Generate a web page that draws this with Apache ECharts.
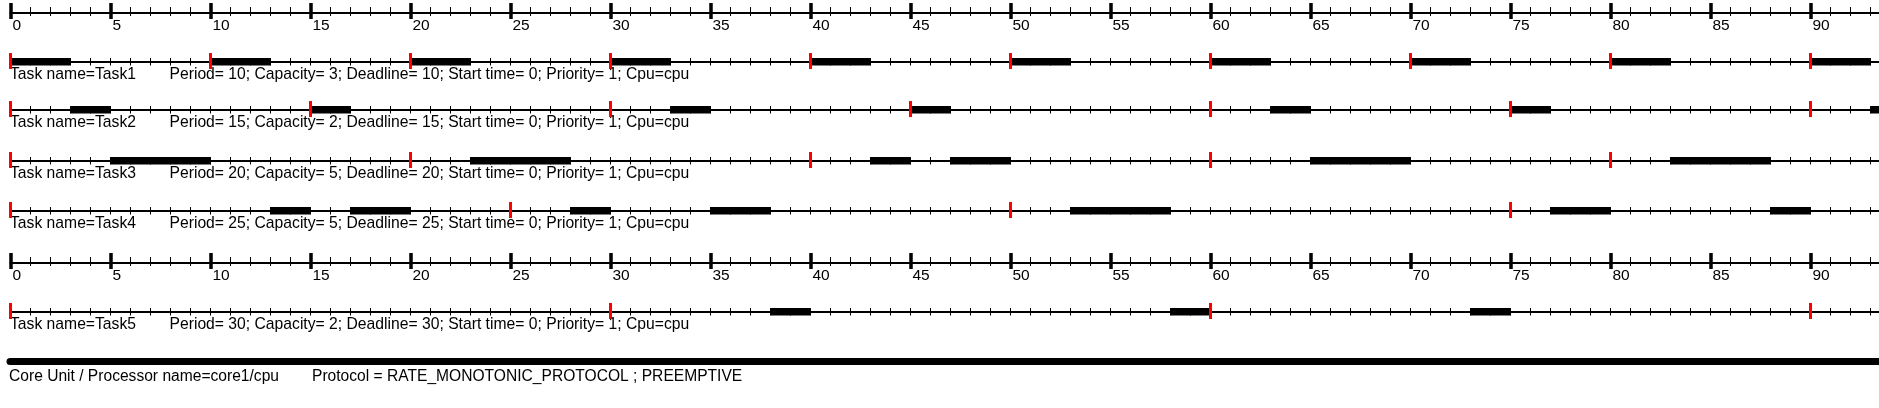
<!DOCTYPE html>
<html><head><meta charset="utf-8">
<script src="https://cdn.jsdelivr.net/npm/echarts@6/dist/echarts.min.js"></script>
<style>html,body{margin:0;padding:0;background:#fff}#c{width:1879px;height:408px}</style>
</head><body><div id="c"></div>
<script>
// ---- data ----
const taskNames = ['Task1', 'Task2', 'Task3', 'Task4', 'Task5'];
const periods = [10, 15, 20, 25, 30];
const capacities = [3, 2, 5, 5, 2];
const deadlines = [10, 15, 20, 25, 30];
const startTimes = [0, 0, 0, 0, 0];
const priorities = [1, 1, 1, 1, 1];
const cpuName = 'cpu';
const coreName = 'core1';
const protocolName = 'RATE_MONOTONIC_PROTOCOL';
const preemptiveName = 'PREEMPTIVE';
const timeMin = 0, timeMax = 95;
const majorStep = 5, minorStep = 1;

const releasesTask1 = [0, 10, 20, 30, 40, 50, 60, 70, 80, 90];
const releasesTask2 = [0, 15, 30, 45, 60, 75, 90];
const releasesTask3 = [0, 20, 40, 60, 80];
const releasesTask4 = [0, 25, 50, 75];
const releasesTask5 = [0, 30, 60, 90];

const execTask1 = [[0, 3], [10, 13], [20, 23], [30, 33], [40, 43], [50, 53], [60, 63], [70, 73], [80, 83], [90, 93]];
const execTask2 = [[3, 5], [15, 17], [33, 35], [45, 47], [63, 65], [75, 77], [93, 95]];
const execTask3 = [[5, 10], [23, 28], [43, 45], [47, 50], [65, 70], [83, 88]];
const execTask4 = [[13, 15], [17, 20], [28, 30], [35, 38], [53, 58], [77, 80], [88, 90]];
const execTask5 = [[38, 40], [58, 60], [73, 75]];

const releases = [releasesTask1, releasesTask2, releasesTask3, releasesTask4, releasesTask5];
const execs = [execTask1, execTask2, execTask3, execTask4, execTask5];

// ---- layout ----
const PX_PER_UNIT = 20;
const LEFT = 10.5;
const FONT = '"Liberation Sans", Arial, sans-serif';
const rows = [
  { kind: 'axis', y: 13 },
  { kind: 'task', y: 62, task: 0 },
  { kind: 'task', y: 110, task: 1 },
  { kind: 'task', y: 161, task: 2 },
  { kind: 'task', y: 211, task: 3 },
  { kind: 'axis', y: 263 },
  { kind: 'task', y: 312, task: 4 },
  { kind: 'core', y: 361.5 }
];

const grids = [], xAxes = [], yAxes = [], series = [], graphics = [];
const black = '#000';

function baseX(g, extra) {
  return Object.assign({
    type: 'value', gridIndex: g, min: timeMin, max: timeMax, position: 'bottom',
    splitLine: { show: false }, axisLabel: { show: false },
    axisLine: { show: false }, axisTick: { show: false }, silent: true
  }, extra);
}

rows.forEach((r, g) => {
  const isCore = r.kind === 'core';
  grids.push({
    left: isCore ? 10 : LEFT, top: r.y, height: 0,
    width: (timeMax - timeMin) * PX_PER_UNIT,
    outerBoundsMode: 'none', containLabel: false
  });
  yAxes.push({ type: 'value', gridIndex: g, min: -1, max: 1, show: false });
  const firstX = xAxes.length;
  if (r.kind === 'axis') {
    xAxes.push(baseX(g, {
      interval: minorStep,
      axisLine: { show: true, lineStyle: { color: black, width: 2 } },
      axisTick: { show: true, inside: true, length: 6, lineStyle: { color: black, width: 1 } }
    }));
    xAxes.push(baseX(g, {
      interval: minorStep,
      axisTick: { show: true, inside: false, length: 3, lineStyle: { color: black, width: 1 } }
    }));
    xAxes.push(baseX(g, {
      interval: majorStep,
      axisTick: { show: true, inside: true, length: 10, lineStyle: { color: black, width: 3.5 } },
      axisLabel: {
        show: true, margin: 5, align: 'left', padding: [0, 0, 0, 2],
        fontSize: 15.5, fontFamily: FONT, color: black, showMaxLabel: false, hideOverlap: false
      }
    }));
    xAxes.push(baseX(g, {
      interval: majorStep,
      axisTick: { show: true, inside: false, length: 6, lineStyle: { color: black, width: 3.5 } }
    }));
  } else if (r.kind === 'task') {
    xAxes.push(baseX(g, {
      interval: minorStep,
      axisLine: { show: true, lineStyle: { color: black, width: 2 } },
      axisTick: { show: true, inside: true, length: 4, lineStyle: { color: black, width: 1 } }
    }));
    xAxes.push(baseX(g, {
      interval: minorStep,
      axisTick: { show: true, inside: false, length: 3.5, lineStyle: { color: black, width: 1 } }
    }));
    const t = r.task;
    series.push({
      type: 'custom', xAxisIndex: firstX, yAxisIndex: g, silent: true, z: 5,
      data: execs[t],
      encode: { x: [0, 1] },
      renderItem: function (params, api) {
        const s = api.coord([api.value(0), 0]);
        const e = api.coord([api.value(1), 0]);
        return { type: 'rect', shape: { x: s[0], y: s[1] - 4, width: e[0] - s[0], height: 7.5 }, style: { fill: black } };
      }
    });
    series.push({
      type: 'scatter', xAxisIndex: firstX, yAxisIndex: g, silent: true, z: 10,
      symbol: 'rect', symbolSize: [3, 16], symbolOffset: [0, -1],
      itemStyle: { color: '#ff0000', opacity: 1 },
      data: releases[t].map(v => [v, 0])
    });
    graphics.push({
      type: 'text', x: 10, y: r.y + 5, silent: true,
      style: { text: 'Task name=' + taskNames[t], fontSize: 15.7, fontFamily: FONT, fill: black, verticalAlign: 'top' }
    });
    graphics.push({
      type: 'text', x: 169.5, y: r.y + 5, silent: true,
      style: {
        text: 'Period= ' + periods[t] + '; Capacity= ' + capacities[t] + '; Deadline= ' + deadlines[t] +
          '; Start time= ' + startTimes[t] + '; Priority= ' + priorities[t] + '; Cpu=' + cpuName,
        fontSize: 15.7, fontFamily: FONT, fill: black, verticalAlign: 'top'
      }
    });
  } else {
    xAxes.push(baseX(g, {
      axisLine: { show: true, lineStyle: { color: black, width: 7 } }
    }));
    graphics.push({
      type: 'text', x: 9, y: r.y + 7, silent: true,
      style: { text: 'Core Unit / Processor name=' + coreName + '/' + cpuName, fontSize: 15.6, fontFamily: FONT, fill: black, verticalAlign: 'top' }
    });
    graphics.push({
      type: 'text', x: 312, y: r.y + 7, silent: true,
      style: { text: 'Protocol = ' + protocolName + ' ; ' + preemptiveName, fontSize: 15.6, fontFamily: FONT, fill: black, verticalAlign: 'top' }
    });
  }
});

const chart = echarts.init(document.getElementById('c'), null, { renderer: 'canvas' });
chart.setOption({
  animation: false,
  backgroundColor: '#fff',
  grid: grids, xAxis: xAxes, yAxis: yAxes, series: series,
  graphic: { elements: graphics }
});
</script>
</body></html>
